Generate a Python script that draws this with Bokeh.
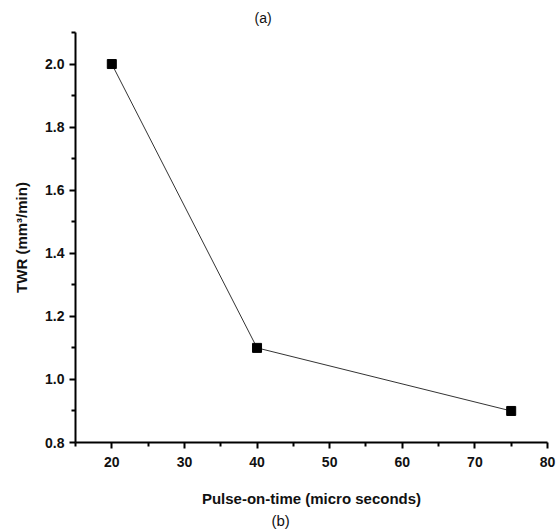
from bokeh.plotting import figure
from bokeh.models import Range1d, Title, FixedTicker, NumeralTickFormatter
from bokeh.embed import file_html
from bokeh.resources import INLINE

pulse_on_time = [20, 40, 75]
twr = [2.0, 1.1, 0.9]
x_ticks = [20, 30, 40, 50, 60, 70, 80]
y_ticks = [0.8, 1.0, 1.2, 1.4, 1.6, 1.8, 2.0]

FONT = "Liberation Sans"

p = figure(width=558, height=532, output_backend="svg", toolbar_location=None,
           x_range=Range1d(15, 80), y_range=Range1d(0.8, 2.1),
           min_border_left=75, min_border_right=11, min_border_top=32, min_border_bottom=90)
p.outline_line_color = None
p.xgrid.visible = False
p.ygrid.visible = False

p.line(pulse_on_time, twr, line_color="#333333", line_width=1)
p.scatter(pulse_on_time, twr, marker="square", size=9, fill_color="black", line_color="black")

p.xaxis.ticker = FixedTicker(ticks=x_ticks, minor_ticks=[15, 25, 35, 45, 55, 65, 75])
p.yaxis.ticker = FixedTicker(ticks=y_ticks, minor_ticks=[0.9, 1.1, 1.3, 1.5, 1.7, 1.9, 2.1])
p.yaxis.formatter = NumeralTickFormatter(format="0.0")

for ax in (p.xaxis[0], p.yaxis[0]):
    ax.axis_line_width = 2
    ax.axis_line_color = "black"
    ax.major_tick_line_width = 2
    ax.minor_tick_line_width = 2
    ax.major_tick_out = 6
    ax.major_tick_in = 0
    ax.minor_tick_out = 4
    ax.minor_tick_in = 0
    ax.major_label_text_font = FONT
    ax.major_label_text_font_style = "bold"
    ax.major_label_text_font_size = "14px"
    ax.major_label_text_color = "#111111"
    ax.axis_label_text_font = FONT
    ax.axis_label_text_font_style = "bold"
    ax.axis_label_text_font_size = "15px"
    ax.axis_label_text_color = "#111111"

p.xaxis.axis_label = "Pulse-on-time (micro seconds)"
p.yaxis.axis_label = "TWR (mm³/min)"
p.xaxis.major_label_standoff = 8
p.xaxis.axis_label_standoff = 20
p.yaxis.major_label_standoff = 5
p.yaxis.axis_label_standoff = 12

p.add_layout(Title(text="(a)", align="left", offset=179, text_font=FONT,
                   text_font_size="14px", text_font_style="normal",
                   text_color="#111111", standoff=14), "above")
p.add_layout(Title(text="(b)", align="left", offset=196, text_font=FONT,
                   text_font_size="15px", text_font_style="normal",
                   text_color="#111111", standoff=0), "below")

open("out.html", "w").write(file_html(p, INLINE))
